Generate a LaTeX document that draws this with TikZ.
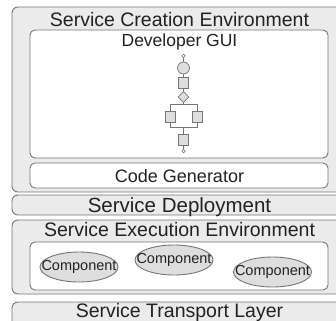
\documentclass[tikz,border=0pt]{standalone}
\usepackage{fontspec}
\setmainfont{Liberation Sans}
\usetikzlibrary{shapes.geometric}
\definecolor{cLine}{HTML}{767676}
\definecolor{cLayer}{HTML}{EBEBEB}
\definecolor{cShape}{HTML}{DEDEDE}
\definecolor{cInk}{HTML}{222222}
\begin{document}
\begin{tikzpicture}[x=1pt,y=-1pt,line width=0.9pt,
    layer/.style={draw=cLine,fill=cLayer,rounded corners=6pt},
    pane/.style={draw=cLine,fill=white,rounded corners=5pt},
    head/.style={anchor=base,inner sep=0pt,text=cInk,font=\fontsize{19.5}{20}\selectfont},
    sub/.style={anchor=base,inner sep=0pt,text=cInk,font=\fontsize{17.5}{18}\selectfont},
    comp/.style={ellipse,draw=cLine,fill=cShape,minimum width=78pt,minimum height=30pt,inner sep=0pt},
    compt/.style={inner sep=0pt,text=cInk,font=\fontsize{14.5}{15}\selectfont},
    blk/.style={draw=cLine,fill=cShape,line width=0.7pt,minimum width=10pt,minimum height=11pt,inner sep=0pt},
    dot/.style={circle,draw=cLine,fill=white,line width=0.7pt,minimum size=3.5pt,inner sep=0pt}]
  \useasboundingbox (0,0) rectangle (336,320);
  % layers and panes
  \draw[layer] (12,7) rectangle (348,192);
  \draw[pane] (30,30) rectangle (328,158);
  \draw[pane] (30,163) rectangle (328,188);
  \draw[layer] (12,195) rectangle (348,215);
  \draw[layer] (12,220) rectangle (348,294);
  \draw[pane] (30,242) rectangle (328,290);
  \draw[layer] (12,302) rectangle (348,335);
  % titles
  \node[head] (sce) at (179.5,27) {Service Creation Environment};
  \node[sub] (gui) at (179.5,47) {Developer GUI};
  \node[sub,font=\fontsize{18}{18}\selectfont] (gen) at (179.5,182) {Code Generator};
  \node[head,font=\fontsize{20.5}{21}\selectfont] (sd) at (179.5,212) {Service Deployment};
  \node[head] (see) at (179.5,236) {Service Execution Environment};
  \node[head] (stl) at (179.5,317) {Service Transport Layer};
  % little flow in the GUI
  \node[dot] (s0) at (183.5,56) {};
  \node[circle,draw=cLine,fill=cShape,line width=0.7pt,minimum size=12pt,inner sep=0pt] (c1) at (183.5,68) {};
  \node[blk] (b1) at (183.5,82.5) {};
  \node[diamond,draw=cLine,fill=cShape,line width=0.7pt,minimum size=11pt,inner sep=0pt] (d1) at (183.5,97) {};
  \coordinate (fork) at (183.5,104);
  \coordinate (join) at (183.5,127);
  \node[blk] (b2) at (170,116.5) {};
  \node[blk] (b3) at (197,116.5) {};
  \node[blk] (b4) at (183.5,139.5) {};
  \node[dot] (e0) at (183.5,151) {};
  \begin{scope}[draw=cLine,line width=0.7pt]
    \draw (s0) -- (c1) -- (b1) -- (d1) -- (fork);
    \draw (b2) -- (b2 |- fork) -- (b3 |- fork) -- (b3);
    \draw (b2) -- (b2 |- join) -- (b3 |- join) -- (b3);
    \draw (join) -- (b4) -- (e0);
  \end{scope}
  % components
  \node[comp,label={[compt]center:Component}] (cp1) at (79,267) {};
  \node[comp,label={[compt]center:Component}] (cp2) at (174,260) {};
  \node[comp,label={[compt]center:Component}] (cp3) at (272.5,272) {};
\end{tikzpicture}
\end{document}
